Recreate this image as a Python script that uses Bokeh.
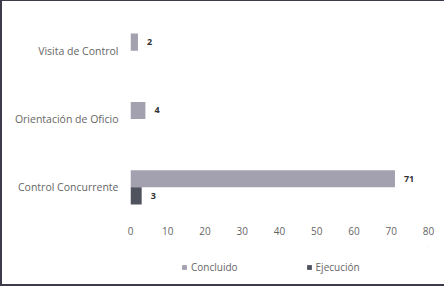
from bokeh.plotting import figure
from bokeh.layouts import column
from bokeh.models import ColumnDataSource, FactorRange, Range1d, FixedTicker, LabelSet, Legend, LegendItem
from bokeh.transform import dodge
from bokeh.embed import file_html
from bokeh.resources import INLINE
from bokeh.core.properties import value

categories = ["Visita de Control", "Orientación de Oficio", "Control Concurrente"]
concluido = [2, 4, 71]
ejecucion = [None, None, 3]
x_ticks = [0, 10, 20, 30, 40, 50, 60, 70, 80]
series_names = ["Concluido", "Ejecución"]

C_CONC = "#a3a1b0"
C_EJEC = "#4f535e"
FONT = "Open Sans"
BORDER = "#3b3b4b"

p = figure(width=442, height=245, y_range=FactorRange(factors=list(reversed(categories))),
           x_range=Range1d(0, 80), output_backend="svg", toolbar_location=None,
           min_border_left=128, min_border_right=16, min_border_top=15, min_border_bottom=25)

src_c = ColumnDataSource(dict(cat=[c for c, v in zip(categories, concluido) if v is not None],
                              val=[v for v in concluido if v is not None]))
src_e = ColumnDataSource(dict(cat=[c for c, v in zip(categories, ejecucion) if v is not None],
                              val=[v for v in ejecucion if v is not None]))

p.hbar(y=dodge("cat", 0.125, range=p.y_range), right="val", left=0, height=0.25,
       source=src_c, fill_color=C_CONC, line_color=None)
p.hbar(y=dodge("cat", -0.125, range=p.y_range), right="val", left=0, height=0.25,
       source=src_e, fill_color=C_EJEC, line_color=None)

for src, off in ((src_c, 0.125), (src_e, -0.125)):
    p.add_layout(LabelSet(x="val", y=dodge("cat", off, range=p.y_range), text="val", source=src,
                          x_offset=9, text_baseline="middle", text_font_size="9px",
                          text_font_style="bold", text_color="#333333", text_font=value(FONT)))

p.xaxis.ticker = FixedTicker(ticks=x_ticks)
for ax in (p.xaxis[0], p.yaxis[0]):
    ax.axis_line_color = None
    ax.major_tick_line_color = None
    ax.minor_tick_line_color = None
    ax.major_tick_out = 0
    ax.major_tick_in = 0
    ax.major_label_text_font = FONT
    ax.major_label_text_color = "#666666"
p.xaxis.major_label_text_font_size = "10px"
p.xaxis.major_label_standoff = 5
p.yaxis.major_label_text_font_size = "10.5px"
p.yaxis.major_label_standoff = 12

p.xgrid.grid_line_color = None
p.ygrid.grid_line_color = None
p.outline_line_color = None

# legend strip below the chart; the proxy bars lie outside its ranges, so only
# their legend swatches show
lg = figure(width=442, height=38, output_backend="svg", toolbar_location=None,
            x_range=Range1d(0, 1), y_range=Range1d(0, 1),
            min_border_left=0, min_border_right=0, min_border_top=0, min_border_bottom=0)
lg.axis.visible = False
lg.grid.grid_line_color = None
lg.outline_line_color = None
proxy = ColumnDataSource(dict(y=[10], right=[10]))
pc = lg.hbar(y="y", right="right", left=9, height=0.1, source=proxy,
             fill_color=C_CONC, line_color=None)
pe = lg.hbar(y="y", right="right", left=9, height=0.1, source=proxy,
             fill_color=C_EJEC, line_color=None)
legend = Legend(items=[LegendItem(label=value(series_names[0]), renderers=[pc]),
                       LegendItem(label=value(series_names[1]), renderers=[pe])],
                orientation="horizontal", location=(51, 10), spacing=68,
                glyph_width=6, glyph_height=6, label_text_font_size="10px",
                label_text_color="#666666", label_text_font=FONT, border_line_color=None,
                background_fill_alpha=0, padding=2, margin=0, label_standoff=4)
lg.add_layout(legend, "center")

layout = column(p, lg, spacing=0,
                styles={"border-left": f"2px solid {BORDER}", "border-top": f"1px solid {BORDER}",
                        "border-bottom": f"2px solid {BORDER}"})

open("out.html", "w").write(file_html(layout, INLINE))
